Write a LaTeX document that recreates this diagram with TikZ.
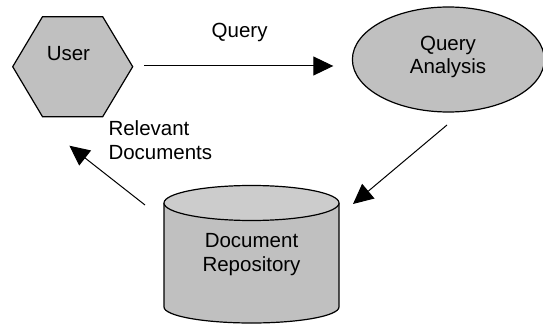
\documentclass[tikz,border=0pt]{standalone}
\usepackage{fontspec}
\setmainfont{Liberation Sans}
\usetikzlibrary{arrows.meta,shapes.geometric}
\definecolor{shapegray}{HTML}{C0C0C0}
\definecolor{topgray}{HTML}{CCCCCC}
\begin{document}
\begin{tikzpicture}[x=1pt,y=1pt,
  outline/.style={draw=black, line width=1.2pt, fill=shapegray, line join=miter},
  arr/.style={draw=black, line width=1pt, -{Triangle[length=20pt,width=19pt]}},
  txt/.style={font=\fontsize{20.5}{24}\selectfont, inner sep=0pt, text=black},
]
\useasboundingbox (0,0) rectangle (543,324);
% User hexagon
\draw[outline] (12.7,257.3) -- (42.5,307.3) -- (102.7,307.3) -- (132.7,257.3)
  -- (102.7,207.3) -- (42.5,207.3) -- cycle;
\node[txt] (user) at (68.4,270.7) {User};
% Query Analysis ellipse
\node[outline, ellipse, minimum width=192pt, minimum height=105pt, inner sep=0pt] (qa) at (448.4,264.5) {};
\node[txt, anchor=base] (qa1) at (448,273.4) {Query};
\node[txt, anchor=base] (qa2) at (448,250) {Analysis};
% Document repository cylinder
\fill[shapegray] (164,121) -- (164,17) arc[start angle=180, end angle=360, x radius=87.5, y radius=16] -- (339,121) -- cycle;
\draw[line width=1.2pt] (164,121) -- (164,17) arc[start angle=180, end angle=360, x radius=87.5, y radius=16] -- (339,121);
\draw[line width=1.2pt, fill=topgray] (251.5,121) ellipse[x radius=87.5, y radius=17.5];
\node[txt, anchor=base] (repo1) at (251.5,77) {Document};
\node[txt, anchor=base] (repo2) at (251.5,53) {Repository};
% connector end points
\coordinate (qstart) at (144,258);
\coordinate (qend) at (333.3,258);
\coordinate (astart) at (447,199);
\coordinate (aend) at (353,120);
\coordinate (rstart) at (145,119);
\coordinate (rend) at (69.4,178.3);
% connectors
\draw[arr] (qstart) -- (qend);
\draw[arr] (astart) -- (aend);
\draw[arr] (rstart) -- (rend);
% labels
\node[txt, anchor=base] (qlabel) at (239.6,286.3) {Query};
\node[txt, anchor=base west] (rel1) at (108.3,188) {Relevant};
\node[txt, anchor=base west] (rel2) at (108.3,164) {Documents};
\end{tikzpicture}
\end{document}
